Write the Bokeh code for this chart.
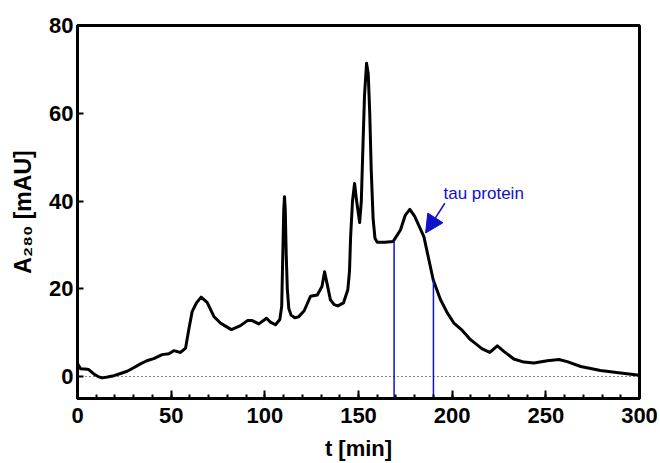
from bokeh.plotting import figure
from bokeh.models import Range1d, Label, Arrow, NormalHead, FixedTicker, Span
from bokeh.embed import file_html
from bokeh.resources import INLINE

# ---- data ----
t_min = [0, 1.6, 4, 6, 8.7, 11, 13.2, 16, 19.4, 23, 26.5, 30, 33.6, 37, 40.7, 45.2, 48.8,
         51.4, 55, 57.7, 59.4, 61.2, 63.5, 66, 69.2, 72.8, 76.3, 79, 82.2, 87, 90.9, 93,
         96.8, 100.9, 103, 105.7, 108, 109, 109.6, 110.1, 110.5, 110.9, 111.4, 112, 112.8,
         114, 116, 118, 121, 124.4, 128, 130.5, 131.9, 133.3, 135, 137, 139, 142, 144.3,
         145.2, 145.8, 146.8, 147.9, 149, 150.6, 151.5, 152.2, 153.2, 154.3, 155.2, 156.0,
         156.8, 157.8, 158.8, 160, 164, 168.5, 172.4, 175, 177.4, 180, 184.9, 189.9, 193.8,
         197.4, 200.9, 205.4, 209.8, 216, 220.1, 224.1, 227.6, 232.9, 238.3, 243.6, 250.8,
         257, 261.4, 268.6, 279.2, 289.9, 300]
a280 = [3.0, 1.8, 1.7, 1.6, 0.6, 0.0, -0.3, -0.1, 0.2, 0.7, 1.2, 2.0, 2.9, 3.6, 4.1, 5.0, 5.2,
        5.9, 5.5, 6.5, 10.7, 14.8, 16.8, 18.1, 16.9, 13.7, 12.2, 11.5, 10.7, 11.6, 12.8, 12.8,
        12.0, 13.3, 12.4, 11.8, 13.0, 16.0, 28.0, 38.0, 41.0, 38.0, 28.0, 20.0, 15.5,
        14.0, 13.4, 13.6, 15.0, 18.3, 18.6, 20.5, 23.9, 21.0, 17.5, 16.4, 16.1, 16.8, 19.8,
        24.0, 31.9, 40.0, 44.0, 40.0, 35.1, 40.0, 50.0, 64.0, 71.4, 69.0, 60.0,
        47.0, 36.0, 31.5, 30.6, 30.6, 30.8, 33.4, 36.8, 38.1, 36.5, 31.9, 22.0, 17.5,
        14.5, 12.2, 10.5, 8.4, 6.3, 5.5, 7.0, 5.75, 4.0, 3.3, 3.1, 3.6,
        3.9, 3.4, 2.3, 1.4, 0.8, 0.3]
fraction_t = [169.0, 190.0]
fraction_top = [30.8, 22.0]
x_ticks = [0, 50, 100, 150, 200, 250, 300]
y_ticks = [0, 20, 40, 60, 80]
annotation_text = "tau protein"
arrow_tail = (196.1, 39.5)
arrow_tip = (185.8, 32.7)

# ---- layout ----
W, H = 660, 463
FL, FR, FT, FB = 77, 639, 25, 399
X0, X1, Y0, Y1 = 0, 300, -5, 80

def px2x(px):
    return X0 + (px - FL) * (X1 - X0) / (FR - FL)

def py2y(py):
    return Y1 - (py - FT) * (Y1 - Y0) / (FB - FT)

p = figure(width=W, height=H, output_backend="svg", toolbar_location=None,
           x_range=Range1d(X0, X1), y_range=Range1d(Y0, Y1),
           min_border_left=FL, min_border_right=W - FR,
           min_border_top=FT, min_border_bottom=H - FB)
p.background_fill_color = "white"
p.border_fill_color = "white"
p.grid.visible = False
p.outline_line_color = "black"
p.outline_line_width = 3

FONT = "Liberation Sans"
for ax in (p.xaxis[0], p.yaxis[0]):
    ax.axis_line_width = 3
    ax.axis_line_color = "black"
    ax.major_tick_line_width = 2
    ax.minor_tick_line_width = 2
    ax.major_tick_out = 0
    ax.minor_tick_out = 0
    ax.major_label_text_font = FONT
    ax.major_label_text_font_style = "bold"
    ax.major_label_text_font_size = "22px"
    ax.major_label_text_color = "black"
    ax.axis_label_text_font = FONT
    ax.axis_label_text_font_style = "bold"
    ax.axis_label_text_font_size = "22px"
    ax.axis_label_text_color = "black"

p.xaxis.ticker = FixedTicker(ticks=x_ticks, minor_ticks=list(range(0, 301, 10)))
p.xaxis.major_tick_in = 8
p.xaxis.minor_tick_in = 4
p.xaxis.major_label_standoff = 9
p.xaxis.axis_label = "t [min]"
p.xaxis.axis_label_standoff = 10
p.yaxis.ticker = FixedTicker(ticks=y_ticks)
p.yaxis.major_tick_in = 6
p.yaxis.minor_tick_in = 0
p.yaxis.major_label_standoff = 4
p.yaxis.axis_label = "A\u2082\u2088\u2080 [mAU]"
p.yaxis.axis_label_text_font_size = "23px"
p.yaxis.axis_label_standoff = 10

p.add_layout(Span(location=0, dimension="width", line_color="black",
                  line_width=1, line_dash="1 3"))

p.line(t_min, a280, line_color="black", line_width=3, line_join="round")
p.segment(x0=fraction_t, y0=[Y0, Y0], x1=fraction_t, y1=fraction_top,
          line_color="#1010c8", line_width=1.5)

p.add_layout(Arrow(end=NormalHead(size=18, fill_color="#1010c8", line_color="#1010c8"),
                   x_start=arrow_tail[0], y_start=arrow_tail[1],
                   x_end=arrow_tip[0], y_end=arrow_tip[1],
                   line_color="#1010c8", line_width=1.5))
p.add_layout(Label(x=px2x(443), y=py2y(193), text=annotation_text,
                   text_font=FONT, text_font_size="17px", text_color="#1010c8",
                   text_baseline="alphabetic", text_align="left"))

open("out.html", "w").write(file_html(p, INLINE))
